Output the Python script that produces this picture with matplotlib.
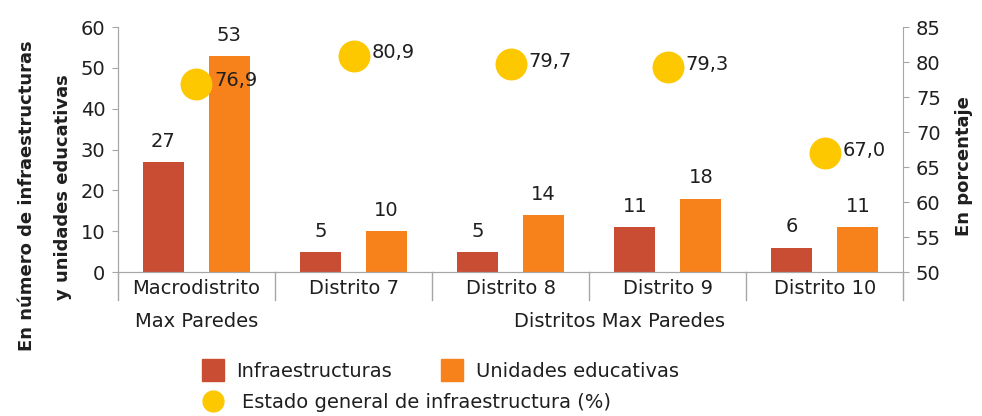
import numpy as np
import matplotlib
matplotlib.use('Agg')
import matplotlib.pyplot as plt
from matplotlib.lines import Line2D
from matplotlib import transforms

plt.rcParams['font.family'] = ['DejaVu Sans']

# datos
categorias = ['Macrodistrito', 'Distrito 7', 'Distrito 8', 'Distrito 9', 'Distrito 10']
infraestructuras = [27, 5, 5, 11, 6]
unidades = [53, 10, 14, 18, 11]
estado = [76.9, 80.9, 79.7, 79.3, 67.0]  # estado general (%)

rojo = '#c94d32'
naranja = '#f7821b'
amarillo = '#fdc800'
gris = '#a6a6a6'
texto = '#1f1f1f'

fig = plt.figure(figsize=(9.82, 4.16), dpi=100)
ax = fig.add_axes([0.120, 0.346, 0.800, 0.589])
ax2 = ax.twinx()

x = np.arange(len(categorias))
ax.bar(x - 0.21, infraestructuras, 0.26, color=rojo)
ax.bar(x + 0.21, unidades, 0.26, color=naranja)

# etiquetas encima de las barras
for xi, v in zip(x, infraestructuras):
    ax.annotate(str(v), (xi - 0.21, v), xytext=(0, 8), textcoords='offset points',
                ha='center', va='bottom', fontsize=14, color=texto)
for xi, v in zip(x, unidades):
    ax.annotate(str(v), (xi + 0.21, v), xytext=(0, 8), textcoords='offset points',
                ha='center', va='bottom', fontsize=14, color=texto)

ax.set_xlim(-0.5, 4.5)
ax.set_ylim(0, 60)
ax.set_yticks(range(0, 61, 10))
ax2.set_ylim(50, 85)
ax2.set_yticks(range(50, 86, 5))

# circulos del porcentaje
ax2.plot(x, estado, 'o', ms=23, color=amarillo, markeredgewidth=0)
for xi, v in zip(x, estado):
    ax2.annotate(f'{v:.1f}'.replace('.', ','), (xi, v), xytext=(13, 2), textcoords='offset points',
                 ha='left', va='center', fontsize=14, color=texto)

for a in (ax, ax2):
    a.spines['top'].set_visible(False)
    for s in ('left', 'right', 'bottom'):
        a.spines[s].set_color(gris)
    a.tick_params(axis='y', direction='out', length=4, color=gris, labelsize=14,
                  labelcolor=texto, pad=5)
ax.spines['right'].set_visible(False)

ax.set_xticks(x, categorias)
ax.tick_params(axis='x', length=0, pad=5, labelsize=14, labelcolor=texto)

# lineas separadoras y segundo nivel de categorias
trans = transforms.blended_transform_factory(ax.transData, ax.transAxes)
for sep in np.arange(-0.5, 5, 1):
    ax.plot([sep, sep], [0, -0.115], color=gris, lw=1, transform=trans, clip_on=False)
ax.text(0, -0.2, 'Max Paredes', transform=trans, ha='center', va='center',
        fontsize=14, color=texto)
ax.text(2.69, -0.2, 'Distritos Max Paredes', transform=trans, ha='center', va='center',
        fontsize=14, color=texto)

# titulos de ejes
fig.text(0.027, 0.53, 'En número de infraestructuras', rotation=90, ha='center', va='center',
         fontsize=13, fontweight='bold', color=texto)
fig.text(0.064, 0.55, 'y unidades educativas', rotation=90, ha='center', va='center',
         fontsize=13, fontweight='bold', color=texto)
fig.text(0.982, 0.60, 'En porcentaje', rotation=90, ha='center', va='center',
         fontsize=13, fontweight='bold', color=texto)

# leyenda (dos filas)
fila1 = [Line2D([], [], marker='s', ls='', ms=16, color=rojo, label='Infraestructuras'),
         Line2D([], [], marker='s', ls='', ms=16, color=naranja, label='Unidades educativas')]
fila2 = [Line2D([], [], marker='o', ls='', ms=15, color=amarillo,
                label='Estado general de infraestructura (%)')]
fig.legend(handles=fila1, ncol=2, loc='center left', bbox_to_anchor=(0.195, 0.108),
           frameon=False, fontsize=14, handlelength=1.2, handletextpad=0.6,
           columnspacing=2.5, borderpad=0, labelcolor=texto)
fig.legend(handles=fila2, loc='center left', bbox_to_anchor=(0.195, 0.032),
           frameon=False, fontsize=14, handlelength=1.2, handletextpad=0.9,
           borderpad=0, labelcolor=texto)

fig.savefig('out.png', dpi=100)
